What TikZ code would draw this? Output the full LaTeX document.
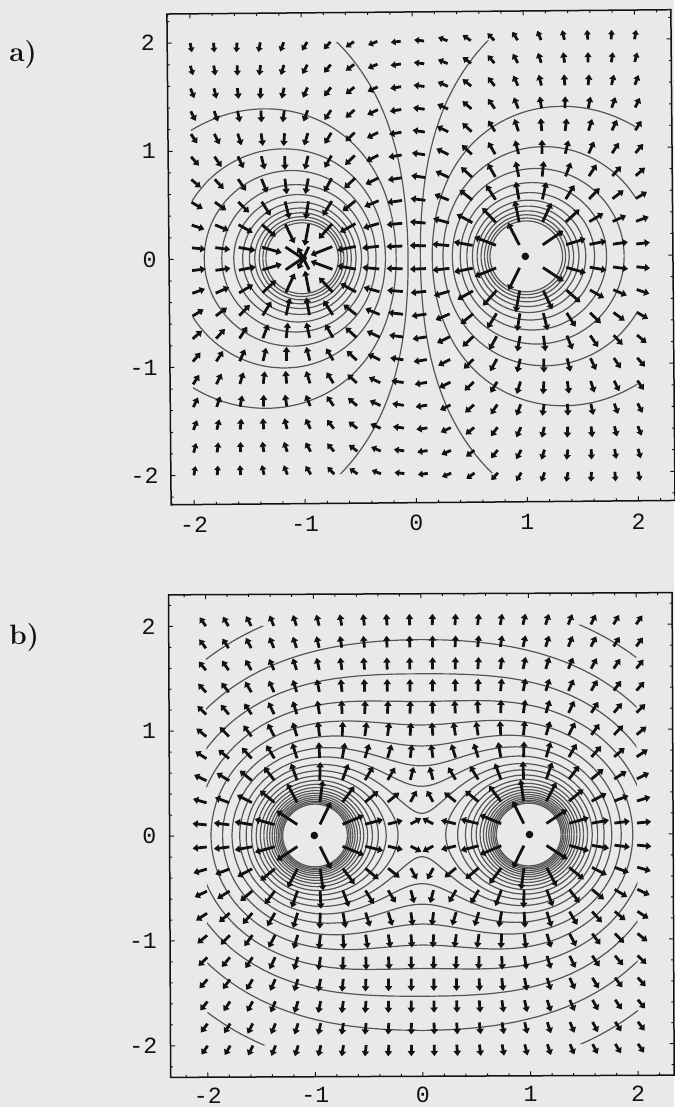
\documentclass[tikz,border=0pt]{standalone}
\usepackage{fontspec}
\newfontfamily\monofont{Liberation Mono}
\usetikzlibrary{arrows.meta}
\definecolor{bg}{RGB}{233,233,233}
\definecolor{cont}{RGB}{85,85,85}
\definecolor{ink}{RGB}{18,18,18}
\newcount\bcnt
% bisection along a ray: #1 cx, #2 cy, #3 angle, #4 level, #5 lo, #6 hi, #7 potential
\newcommand\findroot[7]{%
  \pgfmathsetmacro\cphi{cos(#3)}%
  \pgfmathsetmacro\sphi{sin(#3)}%
  \edef\rlo{#5}\edef\rhi{#6}%
  \bcnt=0
  \loop
    \pgfmathsetmacro\rmid{0.5*(\rlo+\rhi)}%
    \pgfmathsetmacro\vv{#7(#1+\rmid*(\cphi),#2+\rmid*(\sphi))}%
    \ifdim\vv pt>#4pt \let\rlo\rmid\else\let\rhi\rmid\fi
    \advance\bcnt by 1
  \ifnum\bcnt<12 \repeat
  \pgfmathsetmacro\rr{0.5*(\rlo+\rhi)}%
}
\newcommand\drawfour{%
  \edef\tmp{\noexpand\draw[eqline] plot[smooth] coordinates{\curvepts};}%
  \tmp
  \begin{scope}[yscale=-1]\tmp\end{scope}%
  \begin{scope}[xscale=-1]\tmp\end{scope}%
  \begin{scope}[xscale=-1,yscale=-1]\tmp\end{scope}}
% #1 cx #2 cy #3 level #4 angle list #5 lo #6 hi #7 potential
\newcommand\mkcurve[7]{%
  \gdef\curvepts{}%
  \foreach \ph in {#4}{%
    \findroot{#1}{#2}{\ph}{#3}{#5}{#6}{#7}%
    \pgfmathsetmacro\px{#1+\rr*(\cphi)}%
    \pgfmathsetmacro\py{#2+\rr*(\sphi)}%
    \xdef\curvepts{\curvepts(\px,\py)}%
  }%
  \drawfour}
% #1 sign of left charge, #2 ux (px), #3 uy (px)
\newcommand\vecfield[3]{%
  \foreach \i in {0,...,19}{\foreach \j in {0,...,19}{%
    \pgfmathsetmacro\gx{-2+\i*4/19}%
    \pgfmathsetmacro\gy{-2+\j*4/19}%
    \pgfmathsetmacro\rA{((\gx-1)*(\gx-1)+(\gy)*(\gy))^1.5}%
    \pgfmathsetmacro\rB{((\gx+1)*(\gx+1)+(\gy)*(\gy))^1.5}%
    \pgfmathsetmacro\Fx{(\gx-1)*\rB+(#1)*(\gx+1)*\rA}%
    \pgfmathsetmacro\Fy{(\gy)*\rB+(#1)*(\gy)*\rA}%
    \pgfmathsetmacro\Fm{veclen(\Fx,\Fy)}%
    \pgfmathsetmacro\nx{\Fx/\Fm}%
    \pgfmathsetmacro\ny{\Fy/\Fm}%
    \pgfmathsetmacro\Em{\Fm/(\rA*\rB)}%
    \pgfmathsetmacro\alen{min(25,14*exp(0.2*ln(\Em)))}%
    \pgfmathsetmacro\tipx{\gx+\alen*\nx/#2}%
    \pgfmathsetmacro\tipy{\gy+\alen*\ny/#3}%
    \pgfmathsetmacro\hlen{min(2.6,0.24*\alen)}%
    \pgfmathsetmacro\hwid{1.2*\hlen+0.5}%
    \draw[vec,-{Triangle[length=\hlen pt,width=\hwid pt]}] (\gx,\gy) -- (\tipx,\tipy);
  }}}
% #1 xmin #2 xmax #3 ymin #4 ymax #5 ux #6 uy #7 x-label gap #8 y-label gap
\newcommand\plotframe[8]{%
  \draw[frameline] (#1,#3) rectangle (#2,#4);
  \foreach \k in {-12,...,12}{%
    \pgfmathsetmacro\tk{\k/5}%
    \pgfmathtruncatemacro\ismaj{mod(abs(\k),5)==0}%
    \ifnum\ismaj=1 \def\tl{4.5}\else\def\tl{2.5}\fi
    \ifdim\tk pt>#1pt\ifdim\tk pt<#2pt
      \draw[tickline] (\tk,#3) -- ++(0,\tl/#6);
      \draw[tickline] (\tk,#4) -- ++(0,-\tl/#6);
    \fi\fi
    \ifdim\tk pt>#3pt\ifdim\tk pt<#4pt
      \draw[tickline] (#1,\tk) -- ++(\tl/#5,0);
      \draw[tickline] (#2,\tk) -- ++(-\tl/#5,0);
    \fi\fi
  }%
  \foreach \v [count=\cc] in {-2,-1,0,1,2}{%
    \node[lab,anchor=north,yshift=-#7] (\pfx xl\cc) at (\v,#3) {\v};
    \node[lab,anchor=east,xshift=-#8] (\pfx yl\cc) at (#1,\v) {\v};
  }}
\tikzset{
  vec/.style={draw=ink,fill=ink,line width=1.4pt},
  eqline/.style={draw=cont,line width=0.6pt,line join=round},
  frameline/.style={draw=ink,line width=0.75pt},
  tickline/.style={draw=ink,line width=0.5pt},
  lab/.style={font=\fontsize{11.6}{13}\monofont,inner sep=0pt,text=ink},
  panellab/.style={font=\fontsize{14}{16}\selectfont\bfseries,inner sep=0pt,text=ink,anchor=west}
}
\begin{document}
\begin{tikzpicture}[x=0.5pt,y=-0.5pt,
  declare function={
    Va(\p,\q)=1/sqrt((\p-1)*(\p-1)+(\q)*(\q)+0.0001)-1/sqrt((\p+1)*(\p+1)+(\q)*(\q)+0.0001);
    Vb(\p,\q)=1/sqrt((\p-1)*(\p-1)+(\q)*(\q)+0.0001)+1/sqrt((\p+1)*(\p+1)+(\q)*(\q)+0.0001);
  }]
\useasboundingbox (0,0) rectangle (674,1107);
\fill[bg] (0,0) rectangle (674,1107);
\node[panellab] (labela) at (9,55) {a)};
\node[panellab] (labelb) at (9,638) {b)};
% ---------------- panel a
\begin{scope}[shift={(414.2,257.3)},rotate=0.49,x=55.55pt,y=54.05pt]
  \begin{scope}
    \clip (-2,-2) rectangle (2,2);
    \mkcurve{1}{0}{0.1111}{90,92,...,180}{0.02}{2.5}{Va}
    \foreach \kk in {2,...,12}{%
      \pgfmathsetmacro\lev{(\kk-0.5)*2/9}%
      \mkcurve{1}{0}{\lev}{0,3,...,180}{0.02}{2.5}{Va}}
  \end{scope}
  \vecfield{-1}{111.1}{108.1}
  \fill[ink] (1,0) circle[radius=1.9pt] (-1,0) circle[radius=1.9pt];
  \def\pfx{a}
  \plotframe{-2.207}{2.329}{-2.27}{2.27}{111.1}{108.1}{6.2pt}{6pt}
\end{scope}
% ---------------- panel b
\begin{scope}[shift={(421.9,835)},rotate=0.25,x=53.8pt,y=52.45pt]
  \begin{scope}
    \clip (-2,-2) rectangle (2,2);
    \foreach \kk in {0,...,8}{%
      \pgfmathsetmacro\lev{0.8014+0.1446*\kk}%
      \mkcurve{0}{0}{\lev}{0,1,...,90}{0}{4}{Vb}}
    \foreach \kk in {9,...,21}{%
      \pgfmathsetmacro\lev{0.8014+0.1446*\kk}%
      \mkcurve{1}{0}{\lev}{0,3,...,180}{0.02}{1}{Vb}}
  \end{scope}
  \vecfield{1}{107.6}{104.9}
  \fill[ink] (1,0) circle[radius=1.9pt] (-1,0) circle[radius=1.9pt];
  \def\pfx{b}
  \plotframe{-2.345}{2.335}{-2.30}{2.30}{107.6}{104.9}{5pt}{6.4pt}
\end{scope}
\end{tikzpicture}
\end{document}
